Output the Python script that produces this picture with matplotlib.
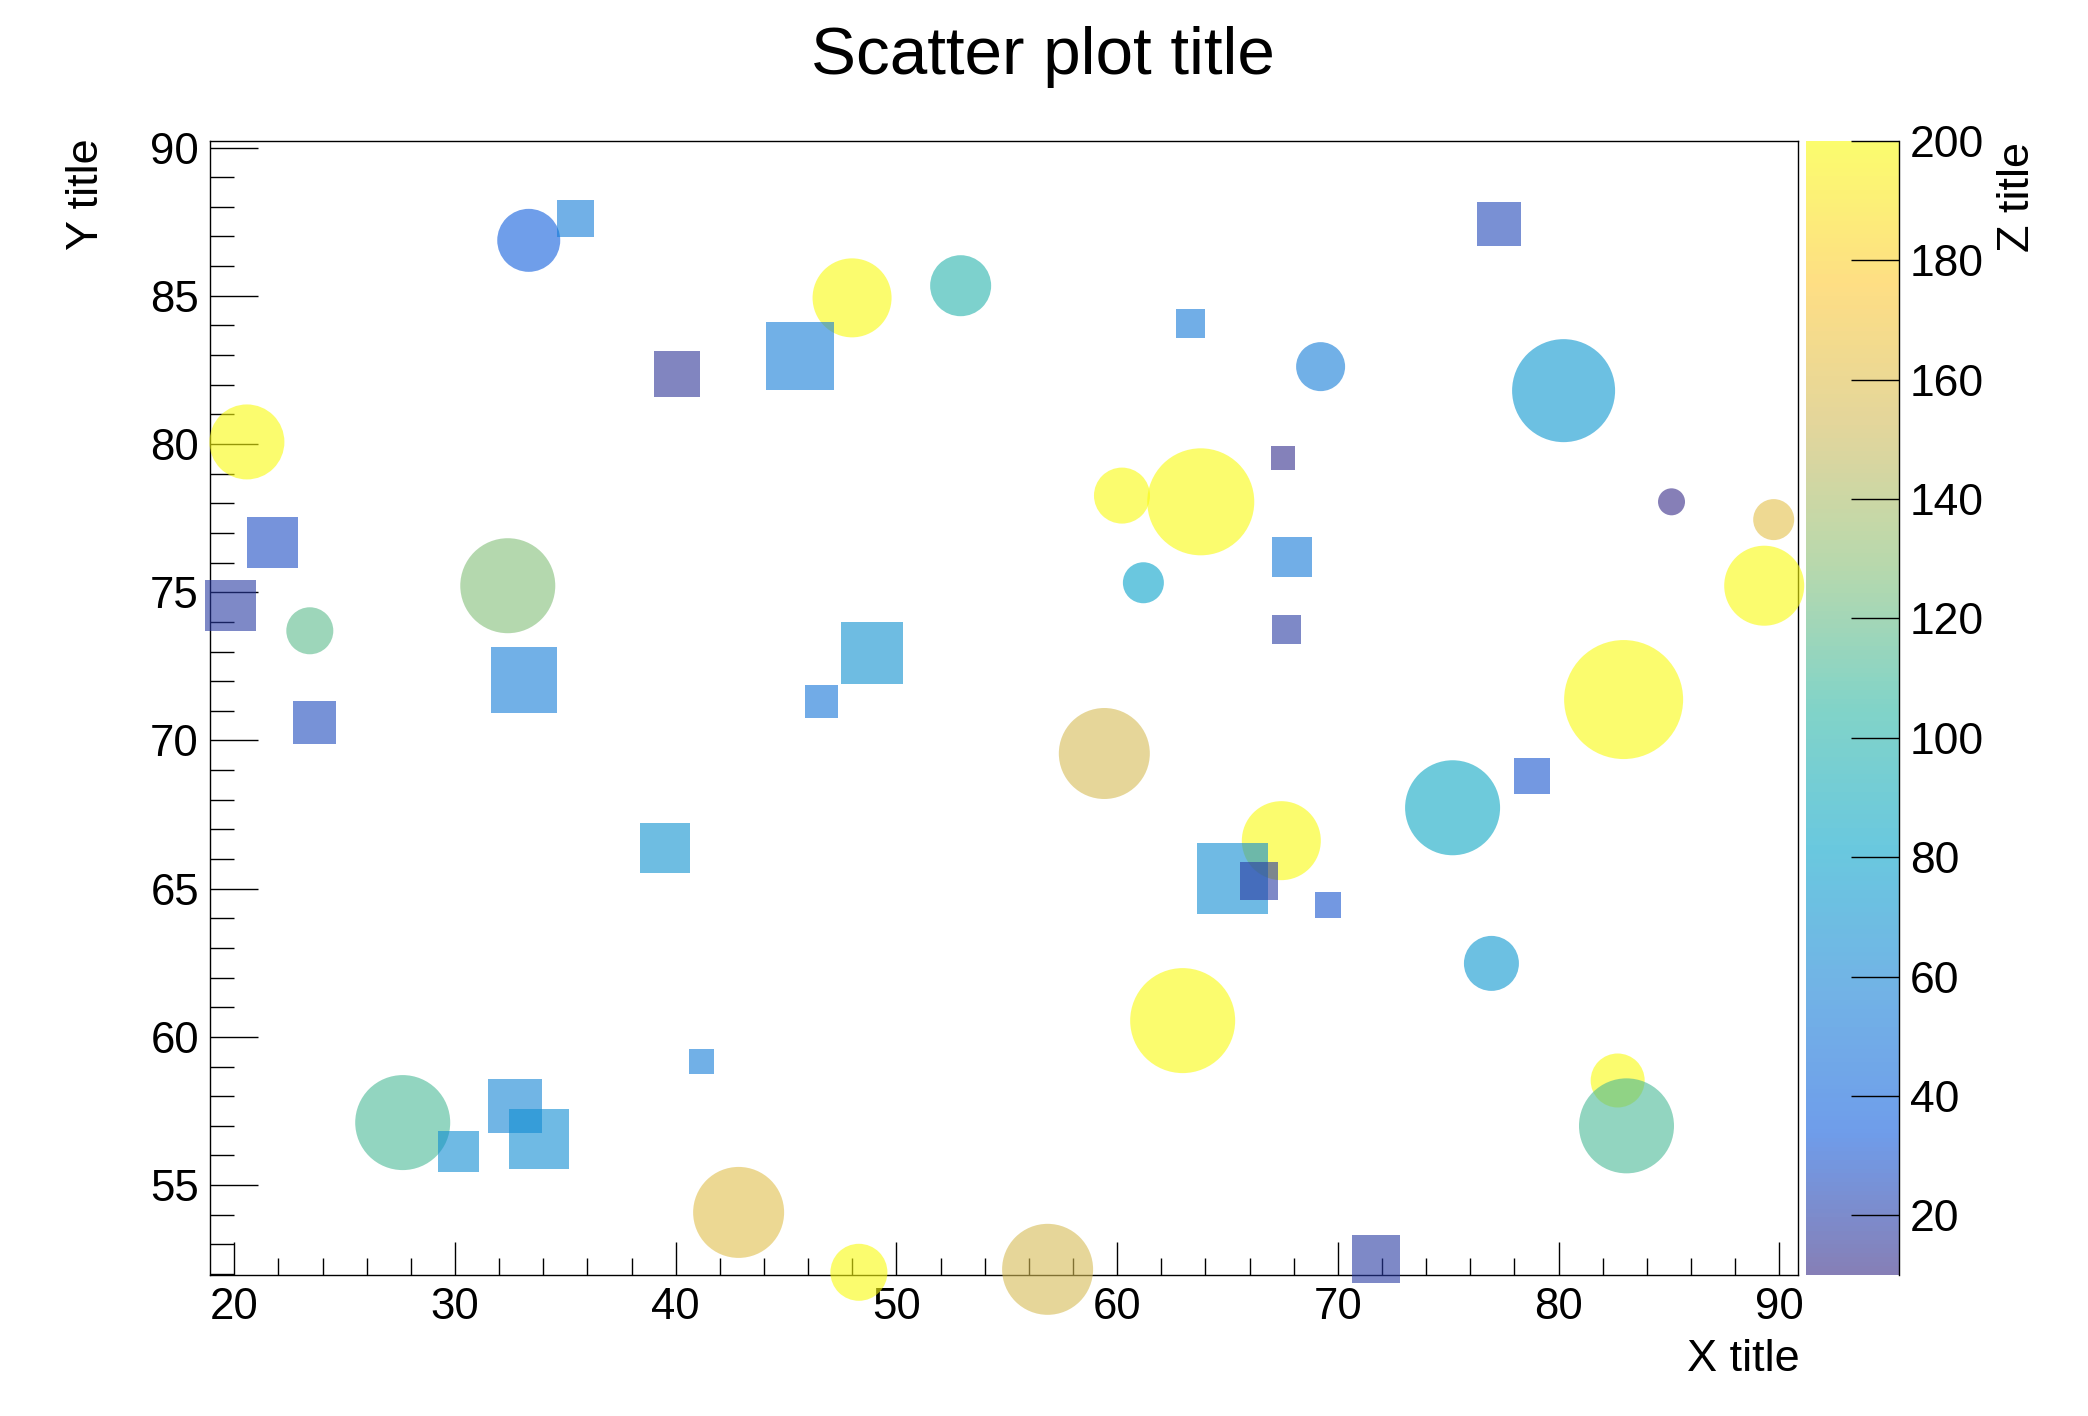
import numpy as np
import matplotlib
matplotlib.use("Agg")
import matplotlib.pyplot as plt
from matplotlib.colors import LinearSegmentedColormap, Normalize
from matplotlib.ticker import MultipleLocator
from matplotlib.cm import ScalarMappable

plt.rcParams['font.family'] = ['Liberation Sans', 'DejaVu Sans']

# data: round markers
circ_x = [33.34, 47.99, 52.91, 69.22, 80.23, 20.57, 60.22, 63.79, 85.12, 89.75,
          89.32, 32.39, 23.42, 61.19, 82.95, 59.42, 67.44, 75.20, 76.96, 62.97,
          82.68, 83.08, 27.63, 42.85, 48.30, 56.85]
circ_y = [86.87, 84.93, 85.34, 82.61, 81.80, 80.07, 78.26, 78.05, 78.05, 77.45,
          75.22, 75.22, 73.70, 75.32, 71.38, 69.56, 66.62, 67.73, 62.48, 60.55,
          58.53, 57.00, 57.11, 54.08, 52.06, 52.16]
circ_z = [35, 200, 100, 55, 72, 200, 200, 200, 10, 162,
          200, 128, 117, 80, 200, 155, 200, 85, 72, 200,
          200, 112, 112, 160, 200, 155]
circ_size = [63, 79, 61, 49, 103, 75, 56, 107, 27, 41,
             80, 95, 47, 41, 119, 91, 79, 95, 55, 105,
             54, 95, 95, 91, 57, 91]

# square markers
sq_x = [35.46, 77.31, 63.33, 45.64, 40.06, 67.52, 21.73, 19.84, 67.93, 67.69,
        33.13, 48.90, 46.61, 23.64, 78.80, 39.51, 65.23, 66.43, 69.56, 41.16,
        32.71, 33.81, 30.16, 71.73]
sq_y = [87.61, 87.41, 84.06, 82.96, 82.36, 79.52, 76.67, 74.55, 76.19, 73.74,
        72.04, 72.94, 71.32, 70.60, 68.79, 66.38, 65.34, 65.26, 64.44, 59.17,
        57.67, 56.55, 56.14, 52.51]
sq_z = [55, 24, 52, 55, 15, 12, 27, 18, 52, 18,
        55, 68, 50, 25, 30, 70, 65, 18, 30, 55,
        60, 66, 65, 18]
sq_size = [37, 44, 29, 68, 46, 24, 51, 51, 40, 29,
           66, 62, 33, 43, 36, 50, 71, 38, 26, 25,
           54, 60, 41, 48]

z_min, z_max = 10, 200
cbar_ticks = [20, 40, 60, 80, 100, 120, 140, 160, 180, 200]

# ROOT kBird palette, drawn with transparency
stops = [0.0, 0.125, 0.25, 0.375, 0.5, 0.625, 0.75, 0.875, 1.0]
red = [0.2082, 0.0592, 0.0780, 0.0232, 0.1802, 0.5301, 0.8186, 0.9956, 0.9764]
green = [0.1664, 0.3599, 0.5041, 0.6419, 0.7178, 0.7492, 0.7328, 0.7862, 0.9832]
blue = [0.5293, 0.8684, 0.8385, 0.7914, 0.6425, 0.4662, 0.3499, 0.1968, 0.0539]
alpha = 0.6
bird = LinearSegmentedColormap.from_list(
    "bird", [(s, (r, g, b, alpha)) for s, r, g, b in zip(stops, red, green, blue)], N=256)
norm = Normalize(z_min, z_max)

dpi = 100
fig = plt.figure(figsize=(20.88, 14.16), dpi=dpi, facecolor='white')
ax = fig.add_axes([0.1006, 0.0996, 0.7605, 0.8008])
cax = fig.add_axes([0.8649, 0.0996, 0.0445, 0.8008])

px2pt = 72.0 / dpi
ax.scatter(circ_x, circ_y, c=circ_z, cmap=bird, norm=norm, marker='o',
           s=(np.array(circ_size) * px2pt) ** 2, linewidths=0, clip_on=False, zorder=3)
ax.scatter(sq_x, sq_y, c=sq_z, cmap=bird, norm=norm, marker='s',
           s=(np.array(sq_size) * px2pt) ** 2, linewidths=0, clip_on=False, zorder=3)

ax.set_xlim(18.9, 90.85)
ax.set_ylim(51.97, 90.22)
ax.xaxis.set_major_locator(MultipleLocator(10))
ax.xaxis.set_minor_locator(MultipleLocator(2))
ax.yaxis.set_major_locator(MultipleLocator(5))
ax.yaxis.set_minor_locator(MultipleLocator(1))
ax.tick_params(axis='x', which='major', direction='in', length=23.8, width=1,
               labelsize=31.5, pad=9, top=False)
ax.tick_params(axis='x', which='minor', direction='in', length=12.2, width=1, top=False)
ax.tick_params(axis='y', which='major', direction='in', length=34.6, width=1,
               labelsize=31.5, pad=8, right=False)
ax.tick_params(axis='y', which='minor', direction='in', length=17.3, width=1, right=False)
for sp in ax.spines.values():
    sp.set_linewidth(1.0)

sm = ScalarMappable(norm=norm, cmap=bird)
cb = fig.colorbar(sm, cax=cax, ticks=cbar_ticks)
cb.outline.set_visible(False)
cax.spines['right'].set_visible(True)
cax.spines['right'].set_linewidth(1.0)
cax.tick_params(axis='y', which='major', direction='in', length=34.6, width=1,
                labelsize=32, pad=8)
cax.minorticks_off()

fig.text(0.4995, 0.9477, "Scatter plot title", fontsize=48.5, ha='center', va='baseline')
fig.text(0.862, 0.0318, "X title", fontsize=32.5, ha='right', va='baseline')
fig.text(0.0412, 0.9025, "Y title", fontsize=32.5, rotation=90, ha='center', va='top')
fig.text(0.9663, 0.8995, "Z title", fontsize=32.5, rotation=90, ha='center', va='top')

fig.savefig("out.png", dpi=dpi, facecolor='white')
